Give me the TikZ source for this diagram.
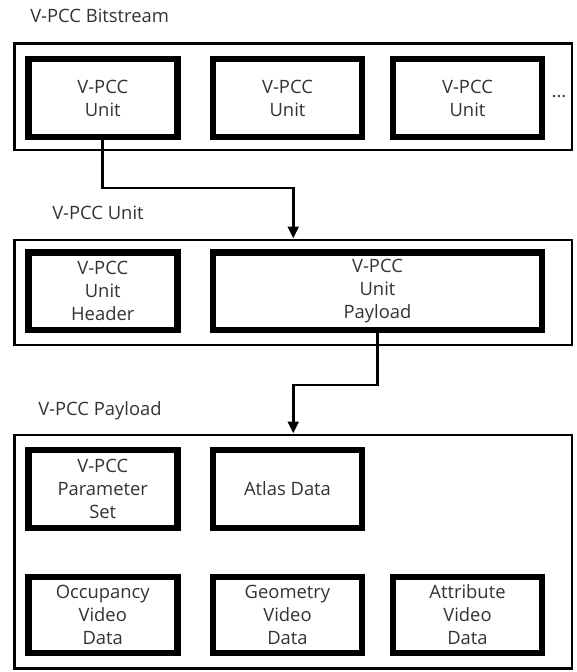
\documentclass[tikz,border=0pt]{standalone}
\usepackage{fontspec}
\setmainfont{Open Sans}
\usetikzlibrary{arrows.meta}
\definecolor{txt}{HTML}{333333}
\begin{document}
\begin{tikzpicture}[x=0.75pt,y=-0.75pt,
  font=\fontsize{13.8}{17.2}\selectfont,
  outerbox/.style={draw=black, line width=2.2pt, minimum width=557.5*0.75pt, inner sep=0pt},
  unitbox/.style={draw=black, line width=5.2pt, fill=white, minimum width=149*0.75pt, minimum height=78*0.75pt, align=center, text=txt, inner sep=0pt},
  title/.style={anchor=west, text=txt, inner sep=0pt},
  conn/.style={draw=black, line width=2.2pt, -{Triangle[length=9pt,width=8pt]}}]
\useasboundingbox (0,0) rectangle (576,672);
% group 1
\node[title] (t1) at (30,16) {V-PCC Bitstream};
\node[outerbox, minimum height=106.5*0.75pt] (o1) at (293.25,96.75) {};
\node[unitbox] (u1) at (102.75,98) {V-PCC\\Unit};
\node[unitbox] (u2) at (287.5,98) {V-PCC\\Unit};
\node[unitbox] (u3) at (467.5,98) {V-PCC\\Unit};
\node[text=txt, inner sep=0pt] (dots) at (559,97) {...};
% group 2
\node[title] (t2) at (52,213) {V-PCC Unit};
\node[outerbox, minimum height=105*0.75pt] (o2) at (293.25,292.5) {};
\node[unitbox, minimum height=77.5*0.75pt] (hd) at (102.75,291.25) {V-PCC\\Unit\\Header};
\node[unitbox, minimum height=77.5*0.75pt, minimum width=329*0.75pt] (pl) at (377.5,291.25) {V-PCC\\Unit\\Payload};
% group 3
\node[title] (t3) at (38,411) {V-PCC Payload};
\node[outerbox, minimum height=233.5*0.75pt] (o3) at (293.25,551.75) {};
\node[unitbox] (ps) at (102.75,489) {V-PCC\\Parameter\\Set};
\node[unitbox] (ad) at (287.5,489) {Atlas Data};
\node[unitbox, minimum height=76*0.75pt] (ov) at (102.75,615) {Occupancy\\Video\\Data};
\node[unitbox, minimum height=76*0.75pt] (gv) at (287.5,615) {Geometry\\Video\\Data};
\node[unitbox, minimum height=76*0.75pt] (av) at (467.5,615) {Attribute\\Video\\Data};
% connectors
\coordinate (k1) at (0,188);
\coordinate (k2) at (0,385);
\draw[conn] (u1.south) -- (u1.south |- k1) -- (o2.north |- k1) -- (o2.north);
\draw[conn] (pl.south) -- (pl.south |- k2) -- (o3.north |- k2) -- (o3.north);
\end{tikzpicture}
\end{document}
